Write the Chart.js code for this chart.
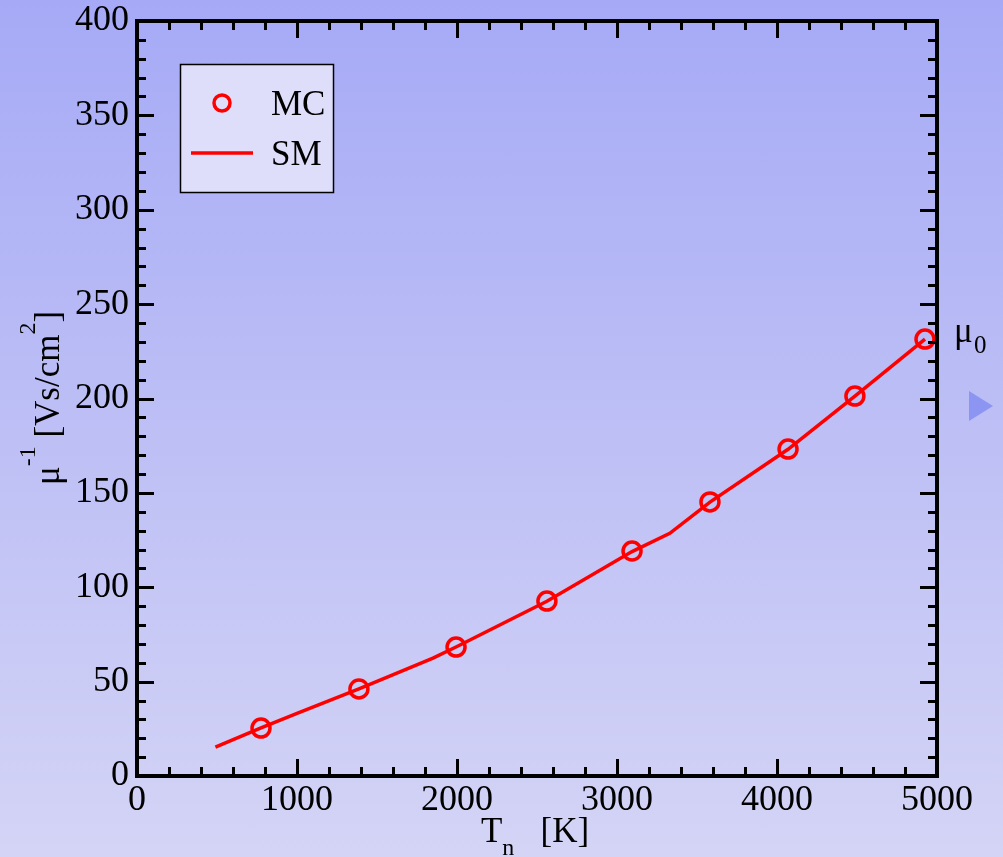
<!DOCTYPE html>
<html>
<head>
    <title>Inverse mobility vs temperature</title>
    <style>
        body {
            margin: 0;
            padding: 0;
            width: 1003px;
            height: 857px;
            overflow: hidden;
            background: linear-gradient(to bottom, #a6aaf6 0%, #bdbff5 50%, #d4d4f6 100%);
        }
    </style>
    <script src="https://cdn.jsdelivr.net/npm/chart.js"></script>
</head>
<body>
    <canvas id="mob-chart" width="1003" height="857"></canvas>

<script>
    // Monte Carlo points (T_n in K, inverse mobility in Vs/cm^2)
    var mcTemps = [775, 1387, 1994, 2562, 3094, 3581, 4069, 4487, 4925];
    var mcValues = [25.4, 46.1, 68.3, 92.7, 119.2, 145.2, 173.2, 201.3, 231.5];

    // SM curve
    var smTemps = [490, 775, 1000, 1387, 1850, 2000, 2562, 3094, 3330, 3581, 4069, 4487, 4925];
    var smValues = [15.3, 25.5, 33.2, 46.2, 62.5, 68.6, 92.6, 118.9, 128.6, 145.1, 173.1, 201.2, 231.4];

    var xTicks = [0, 1000, 2000, 3000, 4000, 5000];
    var yTicks = [0, 50, 100, 150, 200, 250, 300, 350, 400];

    var FONT = "'Liberation Serif', 'DejaVu Serif', serif";

    // draw a string made of pieces, some raised or lowered
    function richText(ctx, parts, cx, baseY) {
        var total = 0;
        parts.forEach(function (p) {
            ctx.font = (p.size || 35) + 'px ' + FONT;
            p.w = ctx.measureText(p.t).width;
            total += p.w;
        });
        var x = cx - total / 2;
        parts.forEach(function (p) {
            ctx.font = (p.size || 35) + 'px ' + FONT;
            ctx.fillText(p.t, x, baseY + (p.dy || 0));
            x += p.w;
        });
    }

    var framePlugin = {
        id: 'frame',
        afterDatasetsDraw: function (chart) {
            var ctx = chart.ctx;
            var a = chart.chartArea;
            var xs = chart.scales.x;
            var ys = chart.scales.y;
            ctx.save();
            ctx.strokeStyle = '#000';
            ctx.lineWidth = 3;
            ctx.beginPath();
            for (var v = 0; v <= 5000; v += 200) {
                var px = Math.round(xs.getPixelForValue(v)) + 0.5;
                var len = v % 1000 === 0 ? 17 : 9;
                ctx.moveTo(px, a.bottom); ctx.lineTo(px, a.bottom - len);
                ctx.moveTo(px, a.top); ctx.lineTo(px, a.top + len);
            }
            for (var w = 0; w <= 400; w += 10) {
                var py = Math.round(ys.getPixelForValue(w)) + 0.5;
                var l2 = w % 50 === 0 ? 17 : 9;
                ctx.moveTo(a.left, py); ctx.lineTo(a.left + l2, py);
                ctx.moveTo(a.right, py); ctx.lineTo(a.right - l2, py);
            }
            ctx.stroke();
            ctx.lineWidth = 4;
            ctx.strokeRect(a.left, a.top, a.right - a.left, a.bottom - a.top);

            // legend box
            ctx.fillStyle = '#dedefb';
            ctx.fillRect(180, 64, 153, 128);
            ctx.lineWidth = 1.5;
            ctx.strokeRect(180.5, 64.5, 153, 128);
            var mc = chart.data.datasets[0];
            var sm = chart.data.datasets[1];
            ctx.strokeStyle = mc.borderColor;
            ctx.lineWidth = mc.borderWidth;
            ctx.beginPath();
            ctx.arc(222, 103, mc.pointRadius - 1, 0, Math.PI * 2);
            ctx.stroke();
            ctx.strokeStyle = sm.borderColor;
            ctx.lineWidth = sm.borderWidth;
            ctx.beginPath();
            ctx.moveTo(191, 153); ctx.lineTo(253, 153);
            ctx.stroke();
            ctx.fillStyle = '#000';
            ctx.textAlign = 'left';
            ctx.textBaseline = 'alphabetic';
            ctx.font = '35px ' + FONT;
            ctx.fillText(mc.label, 271, 115);
            ctx.fillText(sm.label, 271, 165);

            // x title
            richText(ctx, [
                { t: 'T' },
                { t: 'n', size: 24, dy: 13 },
                { t: '   [K]' }
            ], (a.left + a.right) / 2 - 2, 842);

            // y title
            ctx.save();
            ctx.translate(59, 398);
            ctx.rotate(-Math.PI / 2);
            richText(ctx, [
                { t: 'μ' },
                { t: '-1', size: 24, dy: -24 },
                { t: ' [Vs/cm' },
                { t: '2', size: 24, dy: -24 },
                { t: ']' }
            ], 0, 0);
            ctx.restore();

            // mu_0 label next to the last point
            var yMu = ys.getPixelForValue(mcValues[mcValues.length - 1]);
            ctx.font = '35px ' + FONT;
            ctx.fillText('μ', 954, yMu + 3);
            ctx.font = '25px ' + FONT;
            ctx.fillText('0', 974, yMu + 14);

            // slide arrow
            ctx.fillStyle = '#8c96f2';
            ctx.beginPath();
            ctx.moveTo(969, 391); ctx.lineTo(993, 406); ctx.lineTo(969, 421);
            ctx.closePath();
            ctx.fill();
            ctx.restore();
        }
    };

    var ctx = document.getElementById('mob-chart').getContext('2d');
    var chart = new Chart(ctx, {
        type: 'scatter',
        data: {
            datasets: [
                {
                    label: 'MC',
                    data: mcTemps.map(function (t, i) { return { x: t, y: mcValues[i] }; }),
                    showLine: false,
                    pointStyle: 'circle',
                    pointRadius: 9,
                    pointBorderWidth: 3.5,
                    borderWidth: 3.5,
                    borderColor: '#ff0000',
                    pointBorderColor: '#ff0000',
                    backgroundColor: 'rgba(0,0,0,0)',
                    pointBackgroundColor: 'rgba(0,0,0,0)',
                    clip: false,
                    order: 0
                },
                {
                    label: 'SM',
                    data: smTemps.map(function (t, i) { return { x: t, y: smValues[i] }; }),
                    showLine: true,
                    pointRadius: 0,
                    borderWidth: 3.5,
                    borderColor: '#ff0000',
                    backgroundColor: '#ff0000',
                    tension: 0,
                    fill: false,
                    order: 1
                }
            ]
        },
        options: {
            responsive: false,
            animation: false,
            events: [],
            layout: { padding: { left: 0, top: 21, right: 66, bottom: 0 } },
            plugins: {
                legend: { display: false },
                tooltip: { enabled: false },
                title: { display: false }
            },
            scales: {
                x: {
                    type: 'linear',
                    min: 0,
                    max: 5000,
                    grid: { display: false, drawTicks: false },
                    border: { display: false },
                    afterBuildTicks: function (s) { s.ticks = xTicks.map(function (v) { return { value: v }; }); },
                    afterFit: function (s) { s.height = 81; s.paddingLeft = 0; s.paddingRight = 0; },
                    ticks: {
                        color: '#000', padding: 3, maxRotation: 0,
                        font: { family: FONT, size: 36 },
                        callback: function (v) { return String(v); }
                    }
                },
                y: {
                    type: 'linear',
                    min: 0,
                    max: 400,
                    grid: { display: false, drawTicks: false },
                    border: { display: false },
                    afterBuildTicks: function (s) { s.ticks = yTicks.map(function (v) { return { value: v }; }); },
                    afterFit: function (s) { s.width = 137; s.paddingTop = 0; s.paddingBottom = 0; },
                    ticks: {
                        color: '#000', padding: 8,
                        font: { family: FONT, size: 36 },
                        callback: function (v) { return String(v); }
                    }
                }
            }
        },
        plugins: [framePlugin]
    });
</script>

</body>
</html>
